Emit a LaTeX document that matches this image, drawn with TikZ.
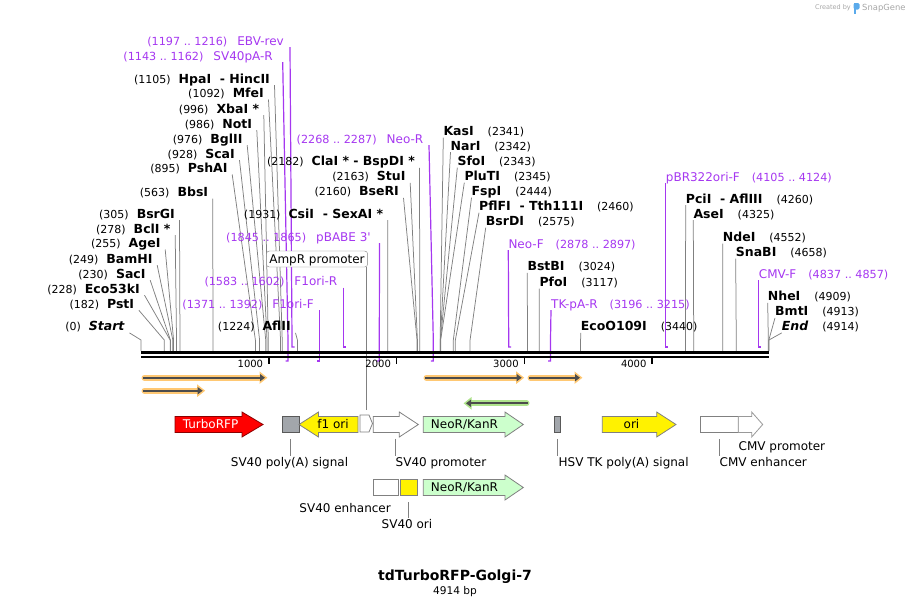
\documentclass[tikz,border=0pt]{standalone}
\usepackage{fontspec}
\setmainfont{DejaVu Sans}
\usetikzlibrary{arrows.meta,backgrounds,positioning}

\definecolor{primer}{RGB}{165,55,240}
\definecolor{leadgrey}{RGB}{128,128,128}
\definecolor{orfcol}{RGB}{255,200,115}
\definecolor{revcol}{RGB}{175,228,140}
\definecolor{featgrey}{RGB}{162,166,171}
\definecolor{neogreen}{RGB}{204,255,204}
\definecolor{snapblue}{RGB}{90,170,235}

\def\sx#1{141+0.12779*#1}
\newcommand{\numf}{\fontsize{11}{13}\selectfont}
\newcommand{\rngf}{\fontsize{11.2}{13}\selectfont}
% arrow to the right: style, start, head, tip, middle
\newcommand{\farR}[5]{\draw[#1] (#2,#5-8) -- (#3,#5-8) -- (#3,#5-12.5) -- (#4,#5) -- (#3,#5+12.5) -- (#3,#5+8) -- (#2,#5+8) -- cycle;}
% arrow to the left: style, tip, head, end, middle
\newcommand{\farL}[5]{\draw[#1] (#2,#5) -- (#3,#5-12.5) -- (#3,#5-8) -- (#4,#5-8) -- (#4,#5+8) -- (#3,#5+8) -- (#3,#5+12.5) -- cycle;}

\begin{document}
\begin{tikzpicture}[x=1pt,y=-1pt]
    \tikzstyle{lab}=[inner sep=0pt, text height=10pt, text depth=2pt, font=\fontsize{12}{14}\selectfont]
    \tikzstyle{enzL}=[lab, anchor=east, font=\fontsize{12.5}{14}\selectfont]
    \tikzstyle{enzR}=[lab, anchor=west, font=\fontsize{12.5}{14}\selectfont]
    \tikzstyle{primL}=[lab, anchor=east, text=primer]
    \tikzstyle{primR}=[lab, anchor=west, text=primer]
    \tikzstyle{leader}=[draw=leadgrey, line width=0.75pt]
    \tikzstyle{pline}=[draw=primer, line width=1.2pt]
    \tikzstyle{feat}=[draw=black!50, line width=0.8pt]
    \tikzstyle{ampbox}=[lab, draw=black!50, fill=white, rounded corners=3pt, inner xsep=3pt, inner ysep=2pt]
    \tikzstyle{orfglow}=[draw=orfcol, line width=6pt, line cap=round, -{Triangle[length=8pt,width=12pt]}]
    \tikzstyle{revglow}=[orfglow, draw=revcol]
    \tikzstyle{orfline}=[draw=black!70, line width=1.8pt, -{Triangle[length=5pt,width=7pt]}]

    \useasboundingbox (0,0) rectangle (911,606);

    %%% SITES LEFT OF THEIR LINE
    \foreach \i/\pos/\xe/\y/\name in {a/0/125/326.7/\textit{Start}, b/182/134.3/304/PstI,
        c/228/140/289/Eco53kI, d/230/145.7/274/SacI, e/249/152.7/259/BamHI,
        f/255/160.7/243.3/AgeI, g/278/170.7/229/BclI *, h/305/175/214/BsrGI,
        i/563/208.3/192.3/BbsI, j/895/227.7/168.3/PshAI, k/928/235/154/ScaI,
        l/976/242.7/139/BglII, m/986/252.3/124/NotI, n/996/259.3/109/XbaI *,
        o/1092/264/93.3/MfeI, p/1105/270/79/HpaI~ - HincII, q/1224/291/326.7/AflII,
        r/1931/383.3/214/CsiI~ - SexAI *, s/2182/415/161.7/ClaI * - BspDI *,
        t/2163/405.7/176.7/StuI, u/2160/399/191.7/BseRI}
    {
        \node[enzL] (L-\i) at (\xe,\y) {{\numf(\pos)}\hspace{8pt}\textbf{\name}};
        \coordinate (LB-\i) at ({\sx{\pos}},340);
        \coordinate (LS-\i) at ({\sx{\pos}},351);
        \begin{pgfonlayer}{background}
            \draw[leader] ([xshift=4.5pt]L-\i.south east) -- (LB-\i) -- (LS-\i);
        \end{pgfonlayer}
    }

    %%% SITES RIGHT OF THEIR LINE
    \foreach \i/\pos/\xs/\y/\name in {A/2341/443.3/131.5/KasI, B/2342/450.5/146/NarI,
        C/2343/457.3/161.5/SfoI, D/2345/464.3/176.5/PluTI, E/2444/471.5/191.5/FspI,
        F/2460/479/206.5/PflFI~ - Tth111I, G/2575/485.7/221.5/BsrDI,
        H/3024/527.3/266.7/BstBI, I/3117/539.3/282.3/PfoI, J/3440/580.7/326.7/EcoO109I,
        K/4260/685.7/199/PciI~ - AflIII, L/4325/693.3/214/AseI, M/4552/722.7/237.3/NdeI,
        N/4658/735.7/252.3/SnaBI, O/4909/767.7/296.7/NheI, P/4913/775/311.7/BmtI,
        Q/4914/781.7/326.7/\textit{End}}
    {
        \node[enzR] (R-\i) at (\xs,\y) {\textbf{\name}\hspace{14pt}{\numf(\pos)}};
        \coordinate (RB-\i) at ({\sx{\pos}},340);
        \coordinate (RS-\i) at ({\sx{\pos}},351);
        \begin{pgfonlayer}{background}
            \draw[leader] (R-\i.south west) -- (RB-\i) -- (RS-\i);
        \end{pgfonlayer}
    }

    %%% PRIMERS
    \foreach \i/\pa/\pb/\xe/\y/\dx/\xb/\ye/\hk/\name in {1/1197/1216/284/41/6/292/347/2.5/EBV-rev,
        2/1143/1162/273/56/9.7/288/361/-2.5/SV40pA-R,
        3/1845/1865/371/237/8.5/379.3/361/-2.5/pBABE 3\textquotesingle,
        4/1583/1602/337.5/281.5/6/343.5/347/2.5/F1ori-R,
        5/1371/1392/314/304/5.3/319.3/361/-2.5/F1ori-F,
        6/2268/2287/423.5/139/5.5/433.3/361/-2.5/Neo-R}
    {
        \node[primL] (P-\i) at (\xe,\y) {{\rngf(\pa~..~\pb)}\hspace{10pt}\name};
        \coordinate (PB-\i) at (\xb,340);
        \coordinate (PE-\i) at (\xb,\ye);
        \coordinate (PH-\i) at ({\xb+(\hk)},\ye);
        \begin{pgfonlayer}{background}
            \draw[pline] ([xshift=\dx pt]P-\i.south east) -- (PB-\i) -- (PE-\i) -- (PH-\i);
        \end{pgfonlayer}
    }
    \foreach \i/\pa/\pb/\xs/\y/\xb/\ye/\hk/\name in {7/2878/2897/508.3/244/508.7/347/2.5/Neo-F,
        8/3196/3215/551/304/550.5/361/-2.5/TK-pA-R,
        9/4105/4124/665.7/177/665.7/347/2.5/pBR322ori-F,
        10/4837/4857/758.7/274/758.7/347/2.5/CMV-F}
    {
        \node[primR] (Q-\i) at (\xs,\y) {\name\hspace{12pt}{\rngf(\pa~..~\pb)}};
        \coordinate (QB-\i) at (\xb,340);
        \coordinate (QE-\i) at (\xb,\ye);
        \coordinate (QH-\i) at ({\xb+(\hk)},\ye);
        \begin{pgfonlayer}{background}
            \draw[pline] (Q-\i.south west) -- (QB-\i) -- (QE-\i) -- (QH-\i);
        \end{pgfonlayer}
    }

    %%% AMPR PROMOTER TAG
    \node[ampbox] (amprbox) at (317,259) {AmpR promoter};
    \coordinate (ampr-top) at (366.7,410);
    \begin{pgfonlayer}{background}
        \draw[leader] (amprbox.south east -| ampr-top) -- (ampr-top);
    \end{pgfonlayer}

    %%% BACKBONE AND SCALE
    \coordinate (bb-l) at (141,352.3);
    \coordinate (bb-r) at (769.3,352.3);
    \draw[line width=2.7pt] (bb-l) -- (bb-r);
    \draw[line width=1.7pt] ([yshift=-4.7pt]bb-l) -- ([yshift=-4.7pt]bb-r);
    \foreach \k in {1,...,4}
    {
        \coordinate (T-\k) at ({\sx{\k*1000}},357);
        \draw[line width=1.7pt] (T-\k) -- ++(0,7);
        \node[lab, font=\fontsize{10}{12}\selectfont, anchor=east] (TL-\k) at ({\sx{\k*1000}-5.5},363.5) {\k000};
    }

    %%% ORFS
    \foreach \i/\xa/\xb/\y in {1/143/265/377.7, 2/143/202.7/390.7, 3/425/521.7/377.7, 4/529/580/377.7}
    {
        \coordinate (orf\i-a) at (\xa,\y);
        \coordinate (orf\i-b) at (\xb,\y);
        \draw[orfglow] ([xshift=1.5pt]orf\i-a) -- ([xshift=2.5pt]orf\i-b);
        \draw[orfline] (orf\i-a) -- (orf\i-b);
    }
    \coordinate (rev-a) at (528,403.3);
    \coordinate (rev-b) at (466,403.3);
    \draw[revglow] ([xshift=-1.5pt]rev-a) -- ([xshift=-2.5pt]rev-b);
    \draw[orfline] (rev-a) -- (rev-b);

    %%% FEATURES
    \farR{feat, fill=red, draw=red!55!black}{175}{242}{263}{424.5}
    \node[lab, text=white] (rfp) at (210.5,424.5) {TurboRFP};
    \draw[feat, fill=featgrey, draw=black!65] (282.5,416.5) rectangle (299,432.5);
    \farL{feat, fill=yellow}{299}{318.5}{358}{424.5}
    \node[lab] (f1ori) at (333,424.5) {f1 ori};
    \draw[feat, fill=white] (360,415) -- (369,415) -- (372.5,423.5) -- (369,432) -- (360,432) -- cycle;
    \farR{feat, fill=white}{373.3}{399.3}{418.3}{424.5}
    \farR{feat, fill=neogreen}{423.3}{505}{523.3}{424.5}
    \node[lab] (neo-1) at (464.5,424.5) {NeoR/KanR};
    \draw[feat, fill=featgrey, draw=black!65] (554.3,416.5) rectangle (560.7,432.5);
    \farR{feat, fill=yellow}{602.3}{656.7}{676}{424.5}
    \node[lab] (ori) at (631.5,424.5) {ori};
    \draw[feat, fill=white] (700,416.5) rectangle (738.3,432.5);
    \farR{feat, fill=white, draw=black!40}{738.3}{751.7}{762.7}{424.5}

    \draw[feat, fill=white] (373.3,479.5) rectangle (398.3,495.5);
    \draw[feat, fill=yellow] (400.3,479.5) rectangle (417.3,495.5);
    \farR{feat, fill=neogreen}{423.3}{505}{523.3}{487.5}
    \node[lab] (neo-2) at (464.5,487.5) {NeoR/KanR};

    %%% FEATURE NAMES
    \coordinate (fb-1) at (290.7,439);
    \node[lab] (fl-1) at (289.5,462) {SV40 poly(A) signal};
    \coordinate (fb-2) at (395.8,438.5);
    \node[lab, anchor=west] (fl-2) at (395.5,462) {SV40 promoter};
    \coordinate (fb-3) at (557.5,439);
    \node[lab, anchor=west] (fl-3) at (558.5,462) {HSV TK poly(A) signal};
    \coordinate (fb-4) at (719.2,439);
    \node[lab, anchor=west] (fl-4) at (719.5,462) {CMV enhancer};
    \node[lab, anchor=west] (fl-5) at (738.5,446) {CMV promoter};
    \node[lab, anchor=east] (fl-6) at (391,508.5) {SV40 enhancer};
    \coordinate (fb-7) at (408.8,502);
    \node[lab] (fl-7) at (407,524) {SV40 ori};
    \foreach \k in {1,2,3,4,7}
        \draw[leader] (fb-\k) -- (fl-\k.north -| fb-\k);

    %%% TITLE
    \node[inner sep=0pt, font=\bfseries\fontsize{14}{16}\selectfont] (title) at (455,576.4) {tdTurboRFP-Golgi-7};
    \node[inner sep=0pt, font=\fontsize{10.6}{12}\selectfont, below=2.4pt of title] (size) {4914 bp};

    \node[inner sep=0pt, anchor=east, text=black!35, font=\fontsize{6.5}{8}\selectfont] (made) at (851,8) {Created by};
    \fill[snapblue] (853.5,3) rectangle (856,13.5);
    \fill[snapblue, rounded corners=1.5pt] (853.5,3) rectangle (859.5,9.5);
    \node[inner sep=0pt, anchor=west, text=black!35, font=\fontsize{8.4}{10}\selectfont] (snap) at (862,8) {SnapGene};
\end{tikzpicture}
\end{document}
